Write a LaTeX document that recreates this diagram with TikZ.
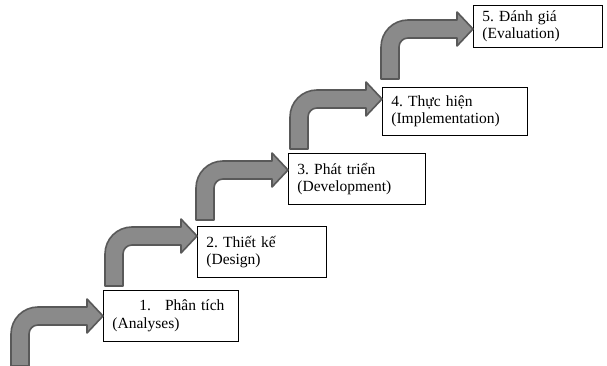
\documentclass[tikz,border=0pt]{standalone}
\usepackage{fontspec}
\setmainfont{Liberation Serif}
\frenchspacing
\definecolor{stepgray}{RGB}{138,138,138}
\definecolor{stepedge}{RGB}{89,89,89}
% bent arrow, tip #2 below the top left corner of box #1
\newcommand\bentarrow[2]{\draw[bentarr] (#1) ++(0,#2) ++(-92,50) -- ++(0,-32)
  .. controls +(0,-15) and +(-15,0) .. ++(27,-27) -- ++(49,0) -- ++(0,-8)
  -- ++(16,17) -- ++(-16,17) -- ++(0,-8) -- ++(-49,0)
  .. controls +(-5,0) and +(0,-5) .. ++(-9,9) -- ++(0,32) -- cycle;}

\begin{document}
\begin{tikzpicture}[x=1pt,y=-1pt,
  stepbox/.style={draw,fill=white,line width=0.8pt,anchor=north west,align=left,
    inner xsep=9pt,inner ysep=2pt,font=\fontsize{15.5}{17.5}\selectfont},
  bentarr/.style={fill=stepgray,draw=stepedge,line width=1.6pt,line join=round}
]
\useasboundingbox (0,0) rectangle (607,366);
\node[stepbox,text width=117pt,minimum height=51pt] (b1) at (103,290) {\hspace*{27pt}1.\hspace{14pt}Phân tích\\(Analyses)};
\node[stepbox,text width=111pt,minimum height=51pt] (b2) at (197,226) {2. Thiết kế\\(Design)};
\node[stepbox,text width=119pt,minimum height=51pt] (b3) at (288,153) {3. Phát triển\\(Development)};
\node[stepbox,text width=127pt,minimum height=48pt] (b4) at (382,87) {4. Thực hiện\\(Implementation)};
\node[stepbox,text width=111pt,minimum height=42pt] (b5) at (473,5) {5. Đánh giá\\(Evaluation)};
% arrows up the steps
\bentarrow{b1.north west}{26}
\bentarrow{b2.north west}{10}
\bentarrow{b3.north west}{17}
\bentarrow{b4.north west}{12}
\bentarrow{b5.north west}{24}
\end{tikzpicture}
\end{document}
